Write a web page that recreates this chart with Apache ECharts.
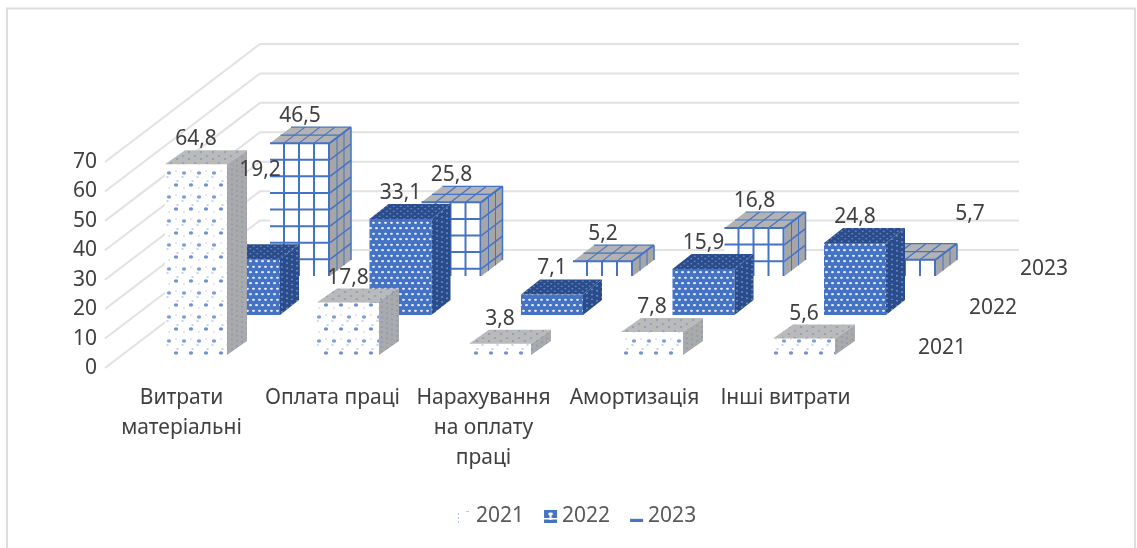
<!DOCTYPE html>
<html>
<head>
<meta charset="utf-8">
<style>
  html, body { margin: 0; padding: 0; background: #fff; }
  #main { width: 1137px; height: 548px; }
</style>
<script src="https://cdn.jsdelivr.net/npm/echarts@6/dist/echarts.min.js"></script>
</head>
<body>
<div id="main"></div>
<script>
// data
var categories = ['Витрати\nматеріальні', 'Оплата праці', 'Нарахування\nна оплату\nпраці', 'Амортизація', 'Інші витрати'];
var values2021 = [64.8, 17.8, 3.8, 7.8, 5.6];
var values2022 = [19.2, 33.1, 7.1, 15.9, 24.8];
var values2023 = [46.5, 25.8, 5.2, 16.8, 5.7];
var wallTicks = [0, 10, 20, 30, 40, 50, 60, 70];

var FONT = '"Noto Sans", sans-serif';
var FONT_SIZE = 21;
var TEXT_COLOR = '#404040';
var BLUE = '#4472c4';

// small canvas tiles for the hatched faces
function tile(w, h, bg, paint) {
  var c = document.createElement('canvas');
  c.width = w;
  c.height = h;
  var ctx = c.getContext('2d');
  if (bg) {
    ctx.fillStyle = bg;
    ctx.fillRect(0, 0, w, h);
  }
  paint(ctx);
  return { image: c, repeat: 'repeat' };
}
function blob(ctx, x, y, rx, ry, color) {
  ctx.fillStyle = color;
  ctx.beginPath();
  ctx.ellipse(x, y, rx, ry, 0, 0, Math.PI * 2);
  ctx.fill();
}
// dots along the depth direction so that the tile wraps on a slanted face
function slantTile(bg, color, rx, ry) {
  return tile(20, 15, bg, function (ctx) {
    for (var i = 0; i < 4; i++) {
      for (var r = 0; r < 3; r++) {
        var y = (15 + 2 + r * 5 - i * 3.75) % 15;
        blob(ctx, 2 + i * 5, y, rx, ry, color);
      }
    }
  });
}

var face2021 = tile(15, 24, '#ffffff', function (ctx) {
  blob(ctx, 4, 5, 2.2, 1.8, '#7f9fd8');
  blob(ctx, 2.5, 9, 1.3, 1.1, '#c5d3ec');
  blob(ctx, 11, 17, 2.2, 1.8, '#7093d2');
  blob(ctx, 12.5, 13, 1.3, 1.1, '#c5d3ec');
  blob(ctx, 11, 3, 1.1, 0.9, '#dbe4f4');
  blob(ctx, 4, 20, 1.1, 0.9, '#dbe4f4');
});
var side2021 = slantTile('#aaaaaa', '#8a9bbd', 1.1, 1.1);
var top2021 = tile(12, 7, '#bababa', function (ctx) {
  blob(ctx, 3, 2, 1.2, 0.8, '#8396bd');
  blob(ctx, 9, 5, 1.2, 0.8, '#7b90bc');
});
var face2022 = tile(6, 11, BLUE, function (ctx) {
  blob(ctx, 1.5, 2.8, 1.5, 1.1, '#e8eef9');
  blob(ctx, 4.5, 8.2, 1.5, 1.1, '#e8eef9');
});
var side2022 = slantTile('#2a4c8a', '#6485c4', 1.1, 1.1);
var top2022 = tile(7, 5, '#2a4c8a', function (ctx) {
  blob(ctx, 1.8, 1.3, 1.1, 0.8, '#6485c4');
  blob(ctx, 5.3, 3.7, 1.1, 0.8, '#6485c4');
});
var legend2021 = tile(13, 13, '#ffffff', function (ctx) {
  ctx.fillStyle = '#b4c6e7';
  ctx.fillRect(0, 3, 1, 2);
  ctx.fillRect(0, 7, 1, 2);
  ctx.fillRect(0, 11, 1, 2);
  ctx.fillRect(8, 1, 3, 1);
});
var legend2022 = tile(13, 13, BLUE, function (ctx) {
  blob(ctx, 6.5, 4, 2.4, 1.4, '#ffffff');
  ctx.fillStyle = '#ffffff';
  ctx.fillRect(0, 8, 13, 1.5);
  ctx.fillRect(5.5, 5, 2, 5);
});
var legend2023 = tile(15, 13, '#ffffff', function (ctx) {
  ctx.fillStyle = '#d9e2f3';
  ctx.fillRect(0, 8, 15, 1);
  ctx.fillStyle = BLUE;
  ctx.fillRect(0, 9, 15, 3);
});

function poly(points, fill) {
  return { type: 'polygon', shape: { points: points }, style: { fill: fill } };
}
function seg(x1, y1, x2, y2, width) {
  return {
    type: 'line',
    shape: { x1: x1, y1: y1, x2: x2, y2: y2 },
    style: { stroke: BLUE, lineWidth: width || 2 }
  };
}

// box with hatched faces for 2021 and 2022
function hatchedBox(barW, dx, dy, front, top, side) {
  return function (params, api) {
    var p = api.coord([api.value(0), api.value(1)]);
    var base = api.coord([api.value(0), 0])[1];
    var x0 = p[0] - barW / 2, x1 = p[0] + barW / 2, y = p[1];
    return {
      type: 'group',
      children: [
        poly([[x0, y], [x1, y], [x1, base], [x0, base]], front),
        poly([[x0, y], [x1, y], [x1 + dx, y + dy], [x0 + dx, y + dy]], top),
        poly([[x1, y], [x1 + dx, y + dy], [x1 + dx, base + dy], [x1, base]], side)
      ]
    };
  };
}

// 2023 has a line grid that follows each face
function gridBox(barW, dx, dy) {
  return function (params, api) {
    var p = api.coord([api.value(0), api.value(1)]);
    var base = api.coord([api.value(0), 0])[1];
    var x0 = p[0] - barW / 2, x1 = p[0] + barW / 2, y = p[1];
    var kids = [
      poly([[x0, y], [x1, y], [x1, base], [x0, base]], '#ffffff'),
      poly([[x0, y], [x1, y], [x1 + dx, y + dy], [x0 + dx, y + dy]], '#b3b3b3'),
      poly([[x1, y], [x1 + dx, y + dy], [x1 + dx, base + dy], [x1, base]], '#a6a6a6')
    ];
    var i, t;
    // vertical lines on the front, each runs on over the top face
    for (i = 14; i <= barW; i += 15) {
      kids.push(seg(x0 + i, y, x0 + i, base));
      kids.push(seg(x0 + i, y, x0 + i + dx, y + dy, 1.2));
    }
    // horizontal lines on the front, each runs on over the side face
    for (t = y; t < base - 1; t += 16.6) {
      kids.push(seg(x0, t, x1, t));
      kids.push(seg(x1, t, x1 + dx, t + dy, 1.5));
    }
    for (i = 1; i <= 3; i++) {
      t = i / 3;
      kids.push(seg(x1 + dx * t, y + dy * t, x1 + dx * t, base + dy * t, i === 3 ? 1.5 : 1));
    }
    kids.push(seg(x0 + dx / 2, y + dy / 2, x1 + dx / 2, y + dy / 2, 1.2));
    kids.push(seg(x0 + dx, y + dy, x1 + dx, y + dy, 1.2));
    return { type: 'group', children: kids };
  };
}

function valueText(x, y, text) {
  return {
    type: 'text',
    x: x,
    y: y,
    style: {
      text: text,
      fill: TEXT_COLOR,
      font: FONT_SIZE + 'px ' + FONT,
      textAlign: 'center',
      textVerticalAlign: 'middle'
    }
  };
}

// value captions sit above the back edge of the top face, a few were moved by hand in the original
function captions(dy, name, nudge) {
  return function (params, api) {
    var idx = api.value(0);
    var p = api.coord([idx, api.value(1)]);
    var n = nudge[idx] || [0, 0];
    var kids = [valueText(p[0] + n[0], p[1] + dy - 11 + n[1], String(api.value(1)).replace('.', ','))];
    if (idx === 4) {
      // depth axis caption of this row
      var zero = api.coord([4, 0]);
      kids.push(valueText(zero[0] + 138, zero[1] - 7, name));
    }
    return { type: 'group', children: kids };
  };
}

function indexed(values) {
  return values.map(function (v, i) { return [i, v]; });
}

function renderWall(params, api) {
  var y = api.coord([0, api.value(0)])[1];
  return {
    type: 'polyline',
    shape: { points: [[105, y], [260, y - 118], [1019, y - 118]] },
    style: { fill: 'none', stroke: '#e2e2e2', lineWidth: 2 }
  };
}

function hiddenX(gridIndex) {
  return { type: 'category', gridIndex: gridIndex, data: categories, show: false };
}
function hiddenY(gridIndex) {
  return { type: 'value', gridIndex: gridIndex, min: 0, max: 70, show: false };
}
function boxSeries(name, axis, z, values, render) {
  return {
    name: name, type: 'custom', xAxisIndex: axis, yAxisIndex: axis, z: z,
    silent: true, encode: { x: 0, y: 1 }, data: indexed(values), renderItem: render
  };
}
function captionSeries(axis, values, render) {
  return {
    name: 'captions' + axis, type: 'custom', xAxisIndex: axis, yAxisIndex: axis, z: 10,
    silent: true, encode: { x: 0, y: 1 }, data: indexed(values), renderItem: render
  };
}

var option = {
  animation: false,
  backgroundColor: '#ffffff',
  graphic: [{
    type: 'polyline',
    silent: true,
    shape: { points: [[7, 548], [7, 8.5], [1135, 8.5], [1135, 548]] },
    style: { fill: 'none', stroke: '#dddddd', lineWidth: 2 }
  }],
  legend: {
    left: 453,
    top: 501,
    itemWidth: 13,
    itemHeight: 13,
    itemGap: 20,
    selectedMode: false,
    textStyle: { fontFamily: FONT, fontSize: FONT_SIZE, color: '#595959' },
    data: [
      { name: '2021', icon: 'rect', itemStyle: { color: legend2021 } },
      { name: '2022', icon: 'rect', itemStyle: { color: legend2022 } },
      { name: '2023', icon: 'rect', itemStyle: { color: legend2023 } }
    ]
  },
  // grid 0 is the front plane with the visible axes, the others are one row of boxes each
  grid: [
    { left: 106, width: 755, top: 162, height: 206 },
    { left: 120, width: 760, top: 149, height: 206 },
    { left: 173.25, width: 757.5, top: 112, height: 203 },
    { left: 224.25, width: 757.5, top: 76, height: 200 }
  ],
  xAxis: [
    {
      type: 'category',
      gridIndex: 0,
      data: categories,
      axisLine: { show: false },
      axisTick: { show: false },
      axisLabel: {
        interval: 0,
        margin: 15,
        lineHeight: 30,
        fontFamily: FONT,
        fontSize: FONT_SIZE,
        color: TEXT_COLOR
      }
    },
    hiddenX(1), hiddenX(2), hiddenX(3)
  ],
  yAxis: [
    {
      type: 'value',
      gridIndex: 0,
      min: 0,
      max: 70,
      interval: 10,
      splitLine: { show: false },
      axisLine: { show: false },
      axisTick: { show: false },
      axisLabel: {
        margin: 9,
        padding: [0, 0, 5, 0],
        fontFamily: FONT,
        fontSize: FONT_SIZE,
        color: TEXT_COLOR
      }
    },
    hiddenY(1), hiddenY(2), hiddenY(3)
  ],
  series: [
    {
      name: 'walls', type: 'custom', xAxisIndex: 0, yAxisIndex: 0, z: 0, silent: true,
      encode: { y: 0 }, data: wallTicks.map(function (t) { return [t]; }), renderItem: renderWall
    },
    boxSeries('2023', 3, 1, values2023, gridBox(60, 21, -16)),
    boxSeries('2022', 2, 2, values2022, hatchedBox(62, 19, -15, face2022, top2022, side2022)),
    boxSeries('2021', 1, 3, values2021, hatchedBox(62, 20, -14, face2021, top2021, side2021)),
    captionSeries(3, values2023, captions(-16, '2023', { 4: [64, -19] })),
    captionSeries(2, values2022, captions(-15, '2022', { 0: [11, -63] })),
    captionSeries(1, values2021, captions(-14, '2021', {}))
  ]
};

var chart = echarts.init(document.getElementById('main'));
chart.setOption(option);
</script>
</body>
</html>
